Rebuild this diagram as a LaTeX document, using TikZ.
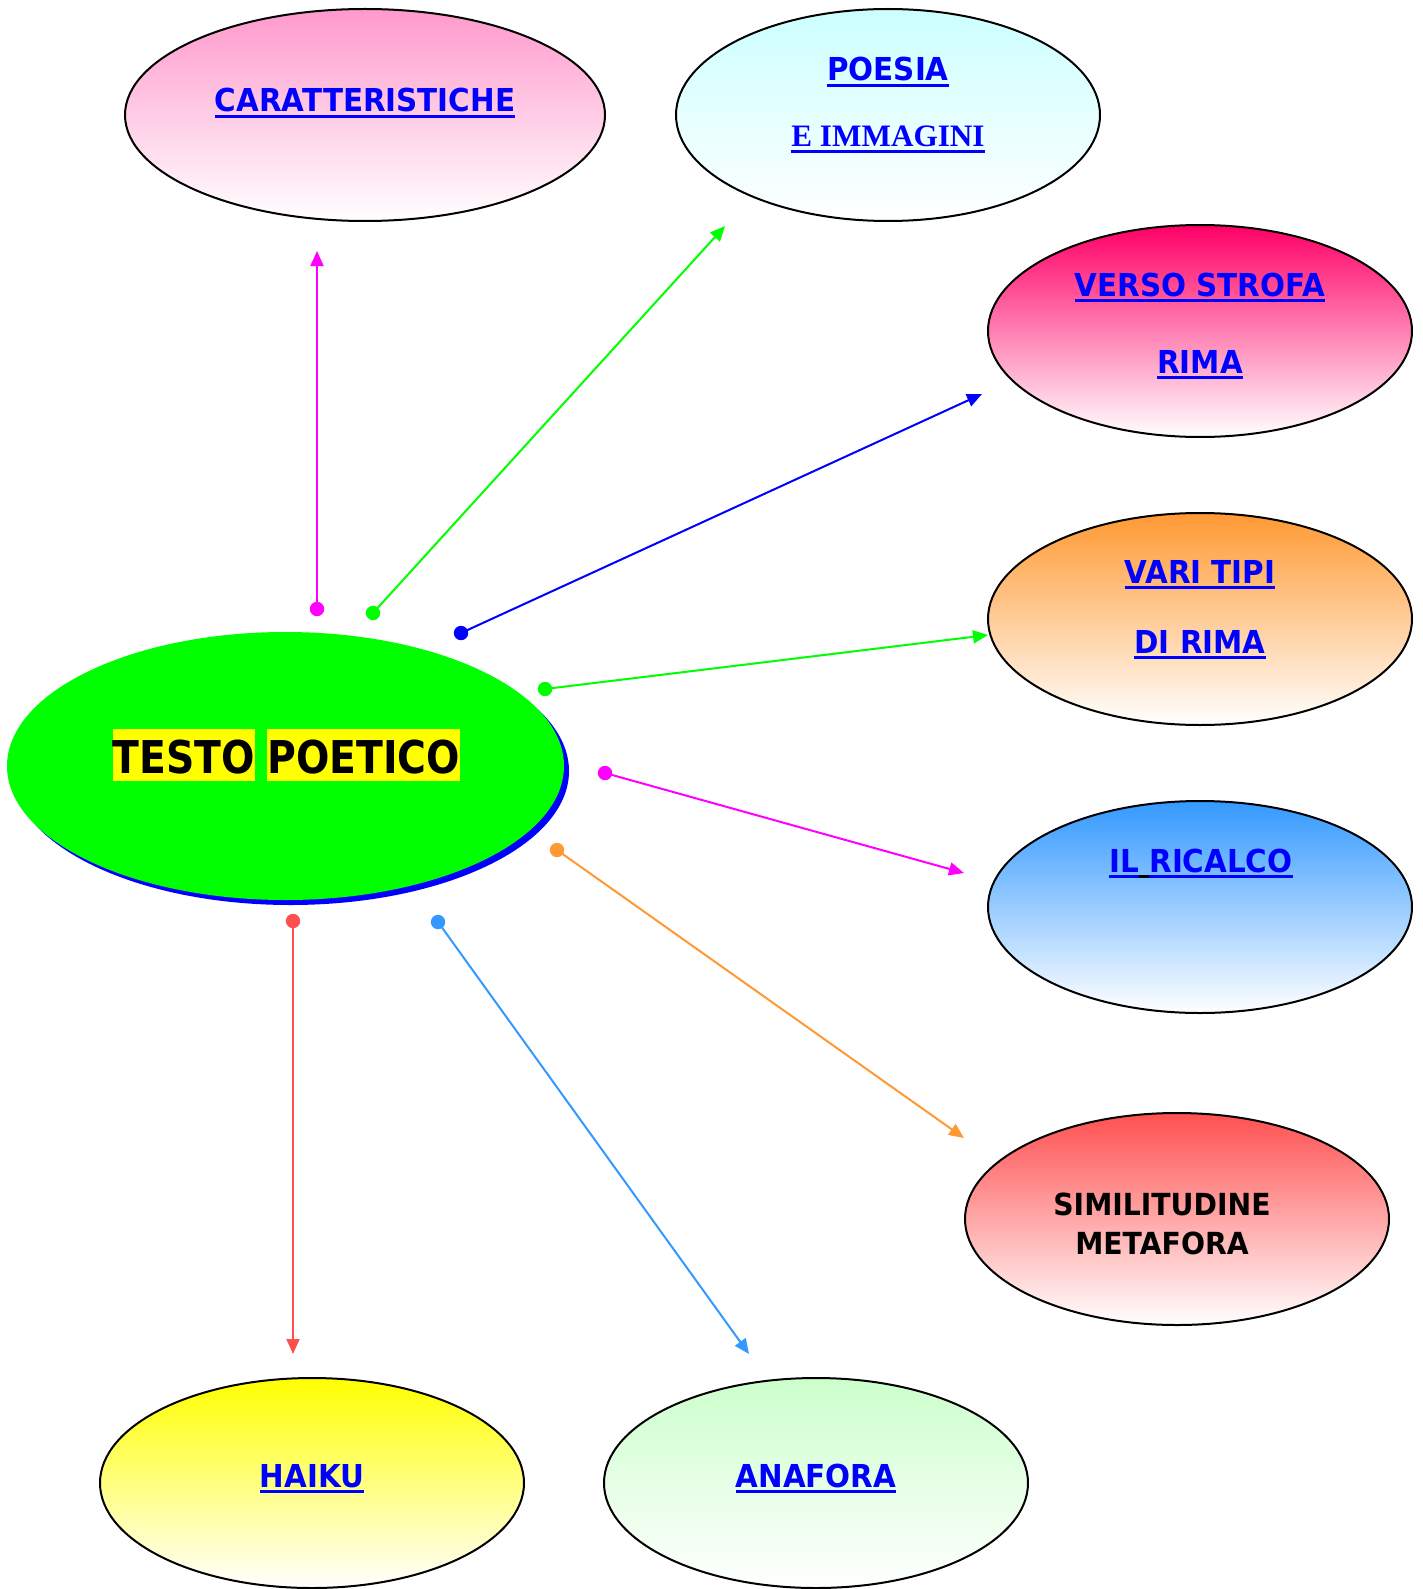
\documentclass[tikz,border=0pt]{standalone}
\usepackage{fontspec}
\setmainfont{DejaVu Sans}[FakeStretch=0.93]
\newfontfamily\tpfont{DejaVu Sans}[FakeStretch=0.87]
\newfontfamily\timesb{Liberation Serif}
\usetikzlibrary{shapes.geometric,arrows.meta}
\definecolor{cMag}{HTML}{FF00FF}
\definecolor{cGreen}{HTML}{00FF00}
\definecolor{cBlue}{HTML}{0000FF}
\definecolor{cOrange}{HTML}{FF9933}
\definecolor{cLBlue}{HTML}{3399FF}
\definecolor{cRed}{HTML}{FF5050}
\definecolor{cYellow}{HTML}{FFFF00}
\definecolor{fPink}{HTML}{FF99CC}
\definecolor{fCyan}{HTML}{CCFFFF}
\definecolor{fRose}{HTML}{FF0066}
\definecolor{fMint}{HTML}{CCFFCC}
\newsavebox\ulbox
\newcommand{\uln}[2][cBlue]{\sbox\ulbox{#2}\rlap{\color{#1}\rule[-3pt]{\wd\ulbox}{1.5pt}}\usebox\ulbox}
\tikzset{
  bubble/.style={ellipse, draw=black, line width=1pt, inner sep=0pt,
    minimum width=212pt, minimum height=106pt, bottom color=white},
  blab/.style={anchor=base, inner sep=0pt, text=cBlue,
    font=\fontsize{15.8}{19}\selectfont\bfseries},
  klab/.style={anchor=base, inner sep=0pt, text=black,
    font=\fontsize{15.2}{18}\selectfont\bfseries},
  conn/.style={line width=1pt, -{Triangle[length=7.5pt,width=6.5pt]}},
}
\begin{document}
\begin{tikzpicture}[x=0.5pt,y=-0.5pt]
\useasboundingbox (0,0) rectangle (1423,1589);
% ellipses
\node[bubble, minimum width=240pt, top color=fPink] (car) at (365,115) {};
\node[bubble, top color=fCyan] (poe) at (888,115) {};
\node[bubble, top color=fRose] (ver) at (1200,331) {};
\node[bubble, top color=cOrange] (var) at (1200,619) {};
\node[bubble, top color=cLBlue] (ric) at (1200,907) {};
\node[bubble, top color=cRed] (sim) at (1177,1219) {};
\node[bubble, minimum height=105pt, top color=cYellow] (hai) at (312,1483) {};
\node[bubble, minimum height=105pt, top color=fMint] (ana) at (816,1483) {};
% main ellipse with blue shadow
\node[ellipse, fill=cBlue, inner sep=0pt, minimum width=278.5pt, minimum height=134pt] (mainsh) at (290.5,771) {};
\node[ellipse, fill=cGreen, inner sep=0pt, minimum width=278.5pt, minimum height=134pt] (main) at (285.5,766) {};
% texts
\node[anchor=base, inner sep=0pt, font=\fontsize{22.6}{26}\tpfont\bfseries] (tp) at (286.5,773)
  {\fboxsep=0pt\colorbox{cYellow}{\rule[-4pt]{0pt}{26pt}TESTO}\hspace{6pt}\colorbox{cYellow}{\rule[-4pt]{0pt}{26pt}POETICO}};
\node[blab] (tcar) at (365,112) {\uln{CARATTERISTICHE}};
\node[blab] (tpoe1) at (888,81) {\uln{POESIA}};
\node[blab, font=\fontsize{15.6}{19}\timesb\bfseries] (tpoe2) at (888,147) {\uln{E IMMAGINI}};
\node[blab] (tver1) at (1200,296) {\uln{VERSO STROFA}};
\node[blab] (tver2) at (1200,373) {\uln{RIMA}};
\node[blab] (tvar1) at (1200,583) {\uln{VARI TIPI}};
\node[blab] (tvar2) at (1200,653) {\uln{DI RIMA}};
\node[blab] (tric) at (1201,872) {\uln{IL}\uln[black]{\ }\uln{RICALCO}};
\node[klab] (tsim1) at (1162,1215) {SIMILITUDINE};
\node[klab] (tsim2) at (1162,1254) {METAFORA};
\node[blab] (thai) at (312,1487) {\uln{HAIKU}};
\node[blab] (tana) at (816,1487) {\uln{ANAFORA}};
% connector end points
\coordinate (s1) at (317,609);  \coordinate (e1) at (317,251);
\coordinate (s2) at (373,613);  \coordinate (e2) at (725,226);
\coordinate (s3) at (461,633);  \coordinate (e3) at (982,394);
\coordinate (s4) at (545,689);  \coordinate (e4) at (988,635);
\coordinate (s5) at (605,773);  \coordinate (e5) at (964,873);
\coordinate (s6) at (557,850);  \coordinate (e6) at (964,1138);
\coordinate (s7) at (438,922);  \coordinate (e7) at (749,1354);
\coordinate (s8) at (293,921);  \coordinate (e8) at (293,1354);
% connectors
\draw[conn, cMag] (s1) -- (e1);   \fill[cMag] (s1) circle (3.6pt);
\draw[conn, cGreen] (s2) -- (e2); \fill[cGreen] (s2) circle (3.6pt);
\draw[conn, cBlue] (s3) -- (e3);  \fill[cBlue] (s3) circle (3.6pt);
\draw[conn, cGreen] (s4) -- (e4); \fill[cGreen] (s4) circle (3.6pt);
\draw[conn, cMag] (s5) -- (e5);   \fill[cMag] (s5) circle (3.6pt);
\draw[conn, cOrange] (s6) -- (e6); \fill[cOrange] (s6) circle (3.6pt);
\draw[conn, cLBlue] (s7) -- (e7); \fill[cLBlue] (s7) circle (3.6pt);
\draw[conn, cRed] (s8) -- (e8);   \fill[cRed] (s8) circle (3.6pt);
\end{tikzpicture}
\end{document}
